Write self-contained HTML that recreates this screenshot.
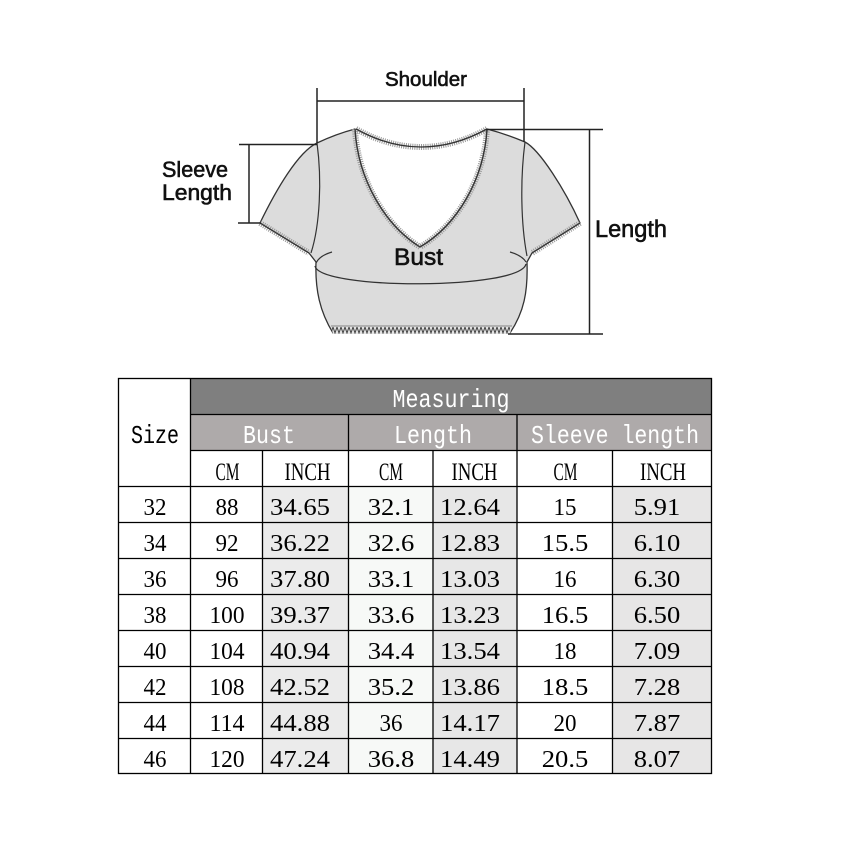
<!DOCTYPE html>
<html><head><meta charset="utf-8"><style>
html,body{margin:0;padding:0;background:#fff;}
svg{display:block;}
</style></head><body>
<svg width="849" height="849" viewBox="0 0 849 849" xmlns="http://www.w3.org/2000/svg">
<defs>
<pattern id="zz" x="333" y="326" width="4" height="8" patternUnits="userSpaceOnUse">
<path d="M0,1 L2,7 L4,1" fill="none" stroke="#444" stroke-width="1"/>
</pattern>
</defs>
<rect width="849" height="849" fill="#fff"/>

<!-- garment body -->
<path d="M317,143 Q336,134 355,129 C358,180 385,225 420,247 C457,225 484,180 487,129 Q506,134 525,142 C540,150 565,190 580,223 L532,253 L527,262 C528,292 524,312 510,333 L333,333 C320,312 315,290 316,262 L309,253 L260,223 C276,190 298,152 317,143 Z" fill="#dcdcdc" stroke="#333" stroke-width="1.3" stroke-linejoin="round"/>
<!-- armhole seams -->
<path d="M317,143 C322,180 320,225 311,253" fill="none" stroke="#333" stroke-width="1.2"/>
<path d="M525,142 C520,180 521,225 527,256" fill="none" stroke="#333" stroke-width="1.2"/>
<!-- bust ellipse -->
<path d="M315,266 C320,290 520,290 526,264" fill="none" stroke="#333" stroke-width="1.3"/>
<path d="M316,263 C319,257 325,254 332,252" fill="none" stroke="#333" stroke-width="1.2"/>
<path d="M510,252 C517,254 523,257 526,262" fill="none" stroke="#333" stroke-width="1.2"/>
<!-- hem band -->
<path d="M331,326 L512,326 L510,334 L333,334 Z" fill="#e4e4e4"/>
<rect x="332" y="326" width="178" height="8" fill="url(#zz)"/>
<line x1="331" y1="326" x2="512" y2="326" stroke="#666" stroke-width="0.8"/>
<!-- fuzzy edges -->
<g fill="none" stroke="#999" stroke-width="6" stroke-dasharray="1 1.2">
<path d="M355,129 C358,180 385,225 420,247 C457,225 484,180 487,129"/>
<path d="M356,129 Q421,165 487,129"/>
<path d="M260,223 L309,253"/>
<path d="M580,223 L532,253"/>
</g>
<g fill="none" stroke="#333" stroke-width="1.3">
<path d="M355,129 C358,180 385,225 420,247 C457,225 484,180 487,129"/>
<path d="M356,129 Q421,165 487,129"/>
<path d="M260,223 L309,253"/>
<path d="M580,223 L532,253"/>
</g>

<!-- measurement lines -->
<g stroke="#222" stroke-width="1.5" fill="none">
<path d="M317,88 V143 M524,88 V142 M317,101 H524"/>
<path d="M239,144.5 H317 M249,144.5 V223 M238,223 H261"/>
<path d="M486,129.5 H603 M589.5,129.5 V334 M508,334 H603"/>
</g>

<g font-family="Liberation Sans, sans-serif" fill="#111" stroke="#111" stroke-width="0.6">
<text x="426" y="86" font-size="20.5" text-anchor="middle" textLength="82" lengthAdjust="spacingAndGlyphs">Shoulder</text>
<text x="162" y="177" font-size="22" textLength="66" lengthAdjust="spacingAndGlyphs">Sleeve</text>
<text x="162" y="200" font-size="22" textLength="70" lengthAdjust="spacingAndGlyphs">Length</text>
<text x="595" y="237" font-size="24" textLength="72" lengthAdjust="spacingAndGlyphs">Length</text>
<text x="394" y="265" font-size="24" textLength="49" lengthAdjust="spacingAndGlyphs">Bust</text>
</g>

<!-- table fills -->
<rect x="190" y="378" width="522" height="36" fill="#7f7f7f"/>
<rect x="190" y="414" width="522" height="36" fill="#aeaaaa"/>
<rect x="262" y="486" width="86" height="288" fill="#ebebeb"/>
<rect x="348" y="486" width="85" height="288" fill="#f7f9f7"/>
<rect x="433" y="486" width="84" height="288" fill="#e7e7e7"/>
<rect x="612" y="486" width="100" height="288" fill="#e7e6e6"/>

<!-- grid -->
<g stroke="#000" stroke-width="1.3" fill="none">
<rect x="118.5" y="378.5" width="593" height="395"/>
<path d="M190.5,378 V774"/>
<path d="M190,414.5 H712 M190,450.5 H712 M118,486.5 H712"/>
<path d="M118,522.5 H712 M118,558.5 H712 M118,594.5 H712 M118,630.5 H712 M118,666.5 H712 M118,702.5 H712 M118,738.5 H712"/>
<path d="M348.5,414 V774 M517,414 V774"/>
<path d="M262.5,450 V774 M433,450 V774 M612.5,450 V774"/>
</g>

<!-- header texts -->
<g font-family="Liberation Mono, monospace" font-size="26" text-anchor="middle">
<text x="451" y="407" fill="#fff" textLength="117" lengthAdjust="spacingAndGlyphs">Measuring</text>
<text x="269" y="443" fill="#fff" textLength="52" lengthAdjust="spacingAndGlyphs">Bust</text>
<text x="433" y="443" fill="#fff" textLength="78" lengthAdjust="spacingAndGlyphs">Length</text>
<text x="615" y="443" fill="#fff" textLength="168" lengthAdjust="spacingAndGlyphs">Sleeve length</text>
<text x="155" y="443" fill="#000" textLength="48" lengthAdjust="spacingAndGlyphs">Size</text>
</g>
<g font-family="Liberation Serif, serif" font-size="25" text-anchor="middle" fill="#000">
<text x="227.5" y="480" textLength="24" lengthAdjust="spacingAndGlyphs">CM</text>
<text x="307.5" y="480" textLength="46" lengthAdjust="spacingAndGlyphs">INCH</text>
<text x="391" y="480" textLength="24" lengthAdjust="spacingAndGlyphs">CM</text>
<text x="474.5" y="480" textLength="46" lengthAdjust="spacingAndGlyphs">INCH</text>
<text x="565.5" y="480" textLength="24" lengthAdjust="spacingAndGlyphs">CM</text>
<text x="663" y="480" textLength="46" lengthAdjust="spacingAndGlyphs">INCH</text>
</g>

<!-- data -->
<g font-family="Liberation Serif, serif" font-size="24" text-anchor="middle" fill="#000">
<text x="155" y="515" textLength="23" lengthAdjust="spacingAndGlyphs">32</text>
<text x="227" y="515" textLength="23" lengthAdjust="spacingAndGlyphs">88</text>
<text x="300" y="515" textLength="60" lengthAdjust="spacingAndGlyphs">34.65</text>
<text x="391" y="515" textLength="46.5" lengthAdjust="spacingAndGlyphs">32.1</text>
<text x="470" y="515" textLength="60" lengthAdjust="spacingAndGlyphs">12.64</text>
<text x="565" y="515" textLength="23" lengthAdjust="spacingAndGlyphs">15</text>
<text x="657" y="515" textLength="46.5" lengthAdjust="spacingAndGlyphs">5.91</text>

<text x="155" y="551" textLength="23" lengthAdjust="spacingAndGlyphs">34</text>
<text x="227" y="551" textLength="23" lengthAdjust="spacingAndGlyphs">92</text>
<text x="300" y="551" textLength="60" lengthAdjust="spacingAndGlyphs">36.22</text>
<text x="391" y="551" textLength="46.5" lengthAdjust="spacingAndGlyphs">32.6</text>
<text x="470" y="551" textLength="60" lengthAdjust="spacingAndGlyphs">12.83</text>
<text x="565" y="551" textLength="46.5" lengthAdjust="spacingAndGlyphs">15.5</text>
<text x="657" y="551" textLength="46.5" lengthAdjust="spacingAndGlyphs">6.10</text>

<text x="155" y="587" textLength="23" lengthAdjust="spacingAndGlyphs">36</text>
<text x="227" y="587" textLength="23" lengthAdjust="spacingAndGlyphs">96</text>
<text x="300" y="587" textLength="60" lengthAdjust="spacingAndGlyphs">37.80</text>
<text x="391" y="587" textLength="46.5" lengthAdjust="spacingAndGlyphs">33.1</text>
<text x="470" y="587" textLength="60" lengthAdjust="spacingAndGlyphs">13.03</text>
<text x="565" y="587" textLength="23" lengthAdjust="spacingAndGlyphs">16</text>
<text x="657" y="587" textLength="46.5" lengthAdjust="spacingAndGlyphs">6.30</text>

<text x="155" y="623" textLength="23" lengthAdjust="spacingAndGlyphs">38</text>
<text x="227" y="623" textLength="35" lengthAdjust="spacingAndGlyphs">100</text>
<text x="300" y="623" textLength="60" lengthAdjust="spacingAndGlyphs">39.37</text>
<text x="391" y="623" textLength="46.5" lengthAdjust="spacingAndGlyphs">33.6</text>
<text x="470" y="623" textLength="60" lengthAdjust="spacingAndGlyphs">13.23</text>
<text x="565" y="623" textLength="46.5" lengthAdjust="spacingAndGlyphs">16.5</text>
<text x="657" y="623" textLength="46.5" lengthAdjust="spacingAndGlyphs">6.50</text>

<text x="155" y="659" textLength="23" lengthAdjust="spacingAndGlyphs">40</text>
<text x="227" y="659" textLength="35" lengthAdjust="spacingAndGlyphs">104</text>
<text x="300" y="659" textLength="60" lengthAdjust="spacingAndGlyphs">40.94</text>
<text x="391" y="659" textLength="46.5" lengthAdjust="spacingAndGlyphs">34.4</text>
<text x="470" y="659" textLength="60" lengthAdjust="spacingAndGlyphs">13.54</text>
<text x="565" y="659" textLength="23" lengthAdjust="spacingAndGlyphs">18</text>
<text x="657" y="659" textLength="46.5" lengthAdjust="spacingAndGlyphs">7.09</text>

<text x="155" y="695" textLength="23" lengthAdjust="spacingAndGlyphs">42</text>
<text x="227" y="695" textLength="35" lengthAdjust="spacingAndGlyphs">108</text>
<text x="300" y="695" textLength="60" lengthAdjust="spacingAndGlyphs">42.52</text>
<text x="391" y="695" textLength="46.5" lengthAdjust="spacingAndGlyphs">35.2</text>
<text x="470" y="695" textLength="60" lengthAdjust="spacingAndGlyphs">13.86</text>
<text x="565" y="695" textLength="46.5" lengthAdjust="spacingAndGlyphs">18.5</text>
<text x="657" y="695" textLength="46.5" lengthAdjust="spacingAndGlyphs">7.28</text>

<text x="155" y="731" textLength="23" lengthAdjust="spacingAndGlyphs">44</text>
<text x="227" y="731" textLength="35" lengthAdjust="spacingAndGlyphs">114</text>
<text x="300" y="731" textLength="60" lengthAdjust="spacingAndGlyphs">44.88</text>
<text x="391" y="731" textLength="23" lengthAdjust="spacingAndGlyphs">36</text>
<text x="470" y="731" textLength="60" lengthAdjust="spacingAndGlyphs">14.17</text>
<text x="565" y="731" textLength="23" lengthAdjust="spacingAndGlyphs">20</text>
<text x="657" y="731" textLength="46.5" lengthAdjust="spacingAndGlyphs">7.87</text>

<text x="155" y="767" textLength="23" lengthAdjust="spacingAndGlyphs">46</text>
<text x="227" y="767" textLength="35" lengthAdjust="spacingAndGlyphs">120</text>
<text x="300" y="767" textLength="60" lengthAdjust="spacingAndGlyphs">47.24</text>
<text x="391" y="767" textLength="46.5" lengthAdjust="spacingAndGlyphs">36.8</text>
<text x="470" y="767" textLength="60" lengthAdjust="spacingAndGlyphs">14.49</text>
<text x="565" y="767" textLength="46.5" lengthAdjust="spacingAndGlyphs">20.5</text>
<text x="657" y="767" textLength="46.5" lengthAdjust="spacingAndGlyphs">8.07</text>
</g>
</svg>
</body></html>
